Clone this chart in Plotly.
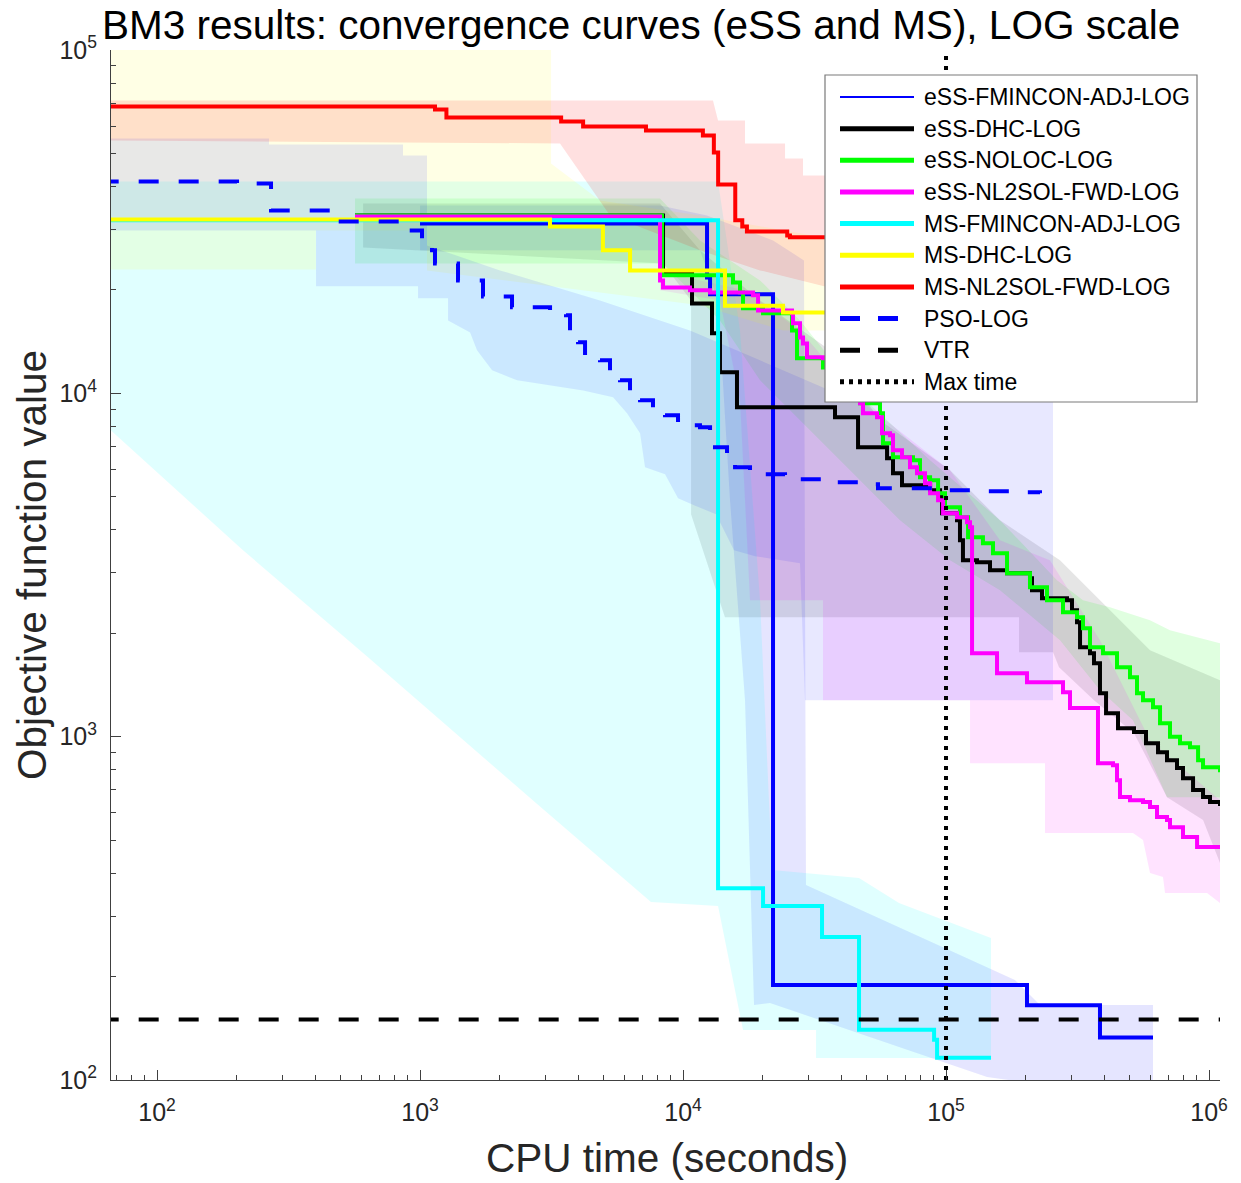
import plotly.graph_objects as go

# ---------------- median convergence curves (CPU time [s], objective value) -------------
ess_fmincon_x = [1000, 12340, 12670, 21990, 203200, 385000, 612400]
ess_fmincon_y = [31250, 21760, 19420, 189, 165, 133, 133]

ess_dhc_x = [566, 8395, 10820, 12890, 13820, 16040, 37840, 46290, 59670, 62870, 68020, 86980, 94940, 96610,
             110100, 113000, 116000, 131200, 147000, 170600, 208600, 212300, 231700, 288500, 301300, 314900,
             323300, 352700, 365300, 385000, 406000, 450800, 518600, 576000, 640000, 692300, 755600, 796300,
             869600, 949000, 1008800, 1101000]
ess_dhc_y = [32970, 22350, 18280, 14950, 11510, 9104, 8514, 6961, 6469, 5847, 5397, 5219, 5047, 4474,
             4269, 3733, 3265, 3221, 3053, 2992, 2894, 2671, 2530, 2496, 2335, 2154,
             1822, 1750, 1637, 1338, 1171, 1058, 1031, 957, 901, 854, 810, 757,
             699, 667, 645, 628]

ess_noloc_x = [566, 8323, 15490, 16470, 16910, 20150, 25970, 27130, 34060, 47100, 56100, 57600, 62870, 74890,
               79630, 86980, 93290, 99130, 113000, 121300, 138200, 150900, 170600, 208600, 242100, 278500,
               314900, 331800, 352700, 395400, 446900, 500700, 532400, 561100, 612400, 651300, 710700, 775700,
               846700, 908700, 949000, 1101000]
ess_noloc_y = [32970, 22060, 21040, 19680, 17680, 17100, 15250, 12650, 11900, 9352, 8745, 7150, 6512, 6383,
               5692, 5579, 5115, 4658, 4355, 3808, 3659, 3422, 2992, 2725, 2496, 2304,
               2228, 2070, 1822, 1750, 1593, 1490, 1338, 1277, 1219, 1095, 1000, 957,
               932, 854, 815, 788]

ess_nl2sol_x = [566, 8178, 8395, 10630, 12670, 18460, 19290, 25970, 26190, 27850, 28590, 29610, 34060, 47100,
                48360, 54650, 57100, 61250, 62870, 68020, 72950, 77570, 83200, 86980, 93290, 97460, 110100,
                120200, 123400, 125600, 156300, 203200, 278500, 296100, 378300, 431500, 446900, 458700, 500700,
                561100, 596600, 634300, 692300, 710700, 796300, 900800, 1101000]
ess_nl2sol_y = [32750, 21330, 20350, 19950, 19680, 19290, 17440, 17100, 15990, 14550, 13980, 12730, 12650, 9352,
                8745, 8514, 7648, 7546, 6826, 6512, 6089, 5847, 5470, 5115, 4881, 4474, 4355,
                4212, 4073, 1750, 1531, 1441, 1347, 1211, 837, 826, 747, 667, 653,
                645, 624, 583, 572, 545, 510, 477, 477]

ms_fmincon_x = [60, 13590, 20150, 33770, 46690, 90080, 92470, 148300]
ms_fmincon_y = [31900, 362, 321, 261, 140, 131, 116, 116]

ms_dhc_x = [60, 3120, 4960, 6290, 14440, 24000, 39500]
ms_dhc_y = [32100, 30600, 26100, 22800, 18000, 17200, 17200]

ms_nl2sol_x = [60, 1140, 1260, 3440, 4170, 7230, 11900, 13100, 13600, 15800, 16800, 17500, 24900, 25500, 39500]
ms_nl2sol_y = [68500, 67100, 63600, 61900, 59900, 58300, 56400, 50300, 40600, 31900, 30600, 29600, 28800, 28500, 28500]

pso_x = [60, 201.5, 271.3, 471, 861.8, 1017.6, 1110.8, 1140, 1394.7, 1735.7, 2237.8, 3122, 3590, 3718, 3989,
         4241, 4835, 5277, 5760, 6287, 6864, 7688, 8543, 9572, 11600, 12670, 13230, 14700, 15770, 17980,
         24430, 34670, 49200, 55130, 94940, 134700, 191200, 227700]
pso_y = [41410, 40860, 34100, 31670, 29820, 27880, 26090, 23900, 21330, 19160, 17800, 17330, 16870, 14750, 14080,
         12900, 12480, 11510, 10910, 10070, 9550, 8923, 8630, 8070, 7962, 7546, 6961, 6383, 6089, 5808,
         5617, 5505, 5433, 5289, 5219, 5184, 5149, 5115]

vtr_value = 150
max_time = 1e5

# ---------------- dispersion bands (closed outlines) -------------------------------------
ms_dhc_band_x = [60, 3149, 3149, 4835, 11600, 39540, 39540, 24000, 11600, 1063, 1063, 402, 402, 60]
ms_dhc_band_y = [1e5, 1e5, 46730, 36470, 32970, 27880, 15250, 15250, 18040, 22810, 29820, 29820, 22960, 22960]

ms_nl2sol_band_x = [60, 13000, 13590, 17210, 17210, 24430, 24430, 28590, 28590, 39540,
                    39540, 19630, 11600, 5277, 3406, 60]
ms_nl2sol_band_y = [71300, 71300, 62360, 62360, 53430, 53430, 48330, 48330, 43110, 43110,
                    19950, 22810, 26090, 32970, 53430, 54520]

pso_band_x = [60, 266.6, 266.6, 861.8, 861.8, 1063, 1063, 2015, 4835, 10630, 19630, 36220, 71060, 255200,
              255200, 29090, 27850, 18790, 15630, 13350, 11010, 9572, 8543, 7170, 6864, 6124, 5418, 4169,
              2339, 1879, 1647, 1550, 1278, 1278, 982.7, 982.7, 402.3, 402.3, 60]
pso_band_y = [55260, 55260, 53070, 53070, 49320, 49320, 26970, 22810, 18650, 15250, 12480, 10200, 9550, 9550,
              1277, 1277, 3200, 3354, 3491, 4444, 4721, 4946, 5808, 6089, 7648, 8745, 9736, 10200,
              10910, 11670, 13340, 15050, 16310, 18910, 18910, 20490, 20490, 29820, 29820]

ms_fmincon_band_x = [60, 13590, 16470, 19630, 21800, 46690, 66260, 148300,
                     148300, 32040, 32040, 16910, 13590, 7554, 2787, 634.3, 212.3, 60]
ms_fmincon_band_y = [41410, 41410, 15250, 2496, 408.7, 387.3, 327.5, 259.1,
                     115.9, 115.9, 139.8, 139.8, 321.0, 329.7, 636.2, 1704, 3491, 8402]

ess_fmincon_band_x = [1000, 8178, 12340, 21990, 28840, 29350, 182900, 227700, 612400,
                      612400, 143200, 21420, 18620, 17210, 15090, 13590, 11600, 8178, 1000]
ess_fmincon_band_y = [35260, 35260, 32970, 27880, 24390, 369.6, 195.5, 165.3, 165.3,
                      87.5, 102.0, 167.6, 165.3, 1277, 4881, 18650, 26090, 26090, 26090]

ess_dhc_band_x = [607.3, 8178, 11600, 19630, 36220, 56100, 103600, 160400, 271300, 385000, 596600, 1101000,
                  1101000, 949000, 692300, 518600, 365300, 269000, 255200, 189500, 189500, 14440, 11600,
                  10730, 10730, 8395, 607.3]
ess_dhc_band_y = [35740, 35740, 26090, 18650, 13340, 8344, 5968, 4269, 3265, 2496, 1785, 1460,
                  428.3, 571.6, 666.6, 1024, 1277, 1593, 1762, 1762, 2228, 2228, 3733,
                  4444, 18650, 23900, 26610]

ess_noloc_band_x = [566, 8178, 11600, 19630, 27850, 47100, 86980, 160400, 264200, 331800, 420300, 596600,
                    710700, 1101000, 1101000, 692300, 514000, 385000, 271300, 160400, 103600, 66840, 43150,
                    27850, 19630, 13820, 8395, 566]
ess_noloc_band_y = [36960, 36960, 27880, 21330, 16310, 9867, 6383, 4269, 2855, 2496, 2382, 2183,
                    2042, 1872, 666.6, 666.6, 1117, 1366, 1910, 2671, 3265, 4269, 5968,
                    8344, 10910, 16310, 23900, 23900]

ess_nl2sol_band_x = [8178, 11600, 17210, 27850, 47100, 103600, 160400, 248500, 385000, 596600, 1101000,
                     1101000, 982700, 680300, 668400, 596600, 561100, 514000, 237900, 237900, 123400, 123400,
                     34060, 34060, 17980, 16470, 13820, 8178]
ess_nl2sol_band_y = [22810, 21330, 19950, 15250, 9550, 5968, 3733, 3265, 1910, 976.8, 653,
                     327.5, 350.3, 350.3, 389.9, 400.6, 499.7, 523.7, 523.7, 837.2, 837.2, 1277,
                     1277, 2496, 2496, 9550, 18650, 19950]

legend_labels = ["eSS-FMINCON-ADJ-LOG", "eSS-DHC-LOG", "eSS-NOLOC-LOG", "eSS-NL2SOL-FWD-LOG",
                 "MS-FMINCON-ADJ-LOG", "MS-DHC-LOG", "MS-NL2SOL-FWD-LOG", "PSO-LOG", "VTR", "Max time"]

x_major = [100, 1000, 10000, 100000, 1000000]
x_major_text = ["10<sup>2</sup>", "10<sup>3</sup>", "10<sup>4</sup>", "10<sup>5</sup>", "10<sup>6</sup>"]
y_major = [100, 1000, 10000, 100000]
y_major_text = ["10<sup>2</sup>", "10<sup>3</sup>", "10<sup>4</sup>", "10<sup>5</sup>"]

# ---------------- figure -------------------------------------------------------------------
fig = go.Figure()

bands = [
    (ess_fmincon_band_x, ess_fmincon_band_y, "rgba(0,0,255,0.10)"),
    (ess_dhc_band_x, ess_dhc_band_y, "rgba(0,0,0,0.10)"),
    (ess_noloc_band_x, ess_noloc_band_y, "rgba(0,255,0,0.12)"),
    (ess_nl2sol_band_x, ess_nl2sol_band_y, "rgba(255,0,255,0.11)"),
    (ms_fmincon_band_x, ms_fmincon_band_y, "rgba(0,255,255,0.12)"),
    (ms_dhc_band_x, ms_dhc_band_y, "rgba(255,255,0,0.10)"),
    (ms_nl2sol_band_x, ms_nl2sol_band_y, "rgba(255,0,0,0.12)"),
    (pso_band_x, pso_band_y, "rgba(0,0,255,0.09)"),
]
for bx, by, col in bands:
    fig.add_trace(go.Scatter(x=bx, y=by, mode="lines", fill="toself", fillcolor=col,
                             line=dict(width=0), hoverinfo="skip", showlegend=False))

LW = 4
curves = [
    (ess_fmincon_x, ess_fmincon_y, "#0000ff", "solid"),
    (ess_dhc_x, ess_dhc_y, "#000000", "solid"),
    (ess_noloc_x, ess_noloc_y, "#00ff00", "solid"),
    (ess_nl2sol_x, ess_nl2sol_y, "#ff00ff", "solid"),
    (ms_fmincon_x, ms_fmincon_y, "#00ffff", "solid"),
    (ms_dhc_x, ms_dhc_y, "#ffff00", "solid"),
    (ms_nl2sol_x, ms_nl2sol_y, "#ff0000", "solid"),
    (pso_x, pso_y, "#0000ff", "20px,20px"),
]
for cx, cy, col, dash in curves:
    fig.add_trace(go.Scatter(x=cx, y=cy, mode="lines", line=dict(color=col, width=LW, dash=dash, shape="hv"),
                             showlegend=False))

fig.add_trace(go.Scatter(x=[60, 1.3e6], y=[vtr_value, vtr_value], mode="lines",
                         line=dict(color="black", width=4, dash="20px,20px"), showlegend=False))
fig.add_trace(go.Scatter(x=[max_time, max_time], y=[100, 1e5], mode="lines",
                         line=dict(color="black", width=4, dash="4px,6px"), showlegend=False))

# ---------------- manual legend (MATLAB style) ---------------------------------------------
L, R, T, B = 111, 1220, 50, 1080
def px(xp):
    return (xp - L) / (R - L)
def py(yp):
    return (B - yp) / (B - T)

shapes = [dict(type="rect", xref="paper", yref="paper", x0=px(825), x1=px(1197), y0=py(402), y1=py(75),
               fillcolor="white", line=dict(color="#7a7a7a", width=1.2), layer="above")]
leg_styles = [("#0000ff", 2, "solid"), ("#000000", 5, "solid"), ("#00ff00", 5, "solid"),
              ("#ff00ff", 5, "solid"), ("#00ffff", 5, "solid"), ("#ffff00", 5, "solid"),
              ("#ff0000", 5, "solid"), ("#0000ff", 5, "20px,18px"), ("#000000", 5, "20px,18px"),
              ("#000000", 5, "4px,5px")]
annotations = []
for i, (lab, (col, w, dash)) in enumerate(zip(legend_labels, leg_styles)):
    yc = 97 + 31.65 * i
    shapes.append(dict(type="line", xref="paper", yref="paper", x0=px(840), x1=px(914), y0=py(yc), y1=py(yc),
                       line=dict(color=col, width=w, dash=dash), layer="above"))
    annotations.append(dict(xref="paper", yref="paper", x=px(922), y=py(yc), text=lab, showarrow=False,
                            xanchor="left", yanchor="middle",
                            font=dict(family="Liberation Sans, Arial", size=23, color="black")))

annotations.append(dict(xref="paper", yref="paper", x=px(641), y=py(25),
                        text="BM3 results: convergence curves (eSS and MS), LOG scale", showarrow=False,
                        xanchor="center", yanchor="middle",
                        font=dict(family="Liberation Sans, Arial", size=40.5, color="black")))
annotations.append(dict(xref="paper", yref="paper", x=px(667), y=py(1158), text="CPU time (seconds)",
                        showarrow=False, xanchor="center", yanchor="middle",
                        font=dict(family="Liberation Sans, Arial", size=40.5, color="#262626")))
annotations.append(dict(xref="paper", yref="paper", x=px(32), y=py(565), text="Objective function value",
                        showarrow=False, xanchor="center", yanchor="middle", textangle=-90,
                        font=dict(family="Liberation Sans, Arial", size=40.5, color="#262626")))

x_minor = [m * 10 ** k for k in range(1, 6) for m in range(2, 10) if 66 < m * 10 ** k < 1.1e6]
y_minor = [m * 10 ** k for k in range(2, 5) for m in range(2, 10)]

axis_common = dict(type="log", showgrid=False, zeroline=False, showline=True, linecolor="#404040",
                   linewidth=1, ticks="inside", ticklen=10, tickwidth=1, tickcolor="#404040",
                   tickfont=dict(family="Liberation Sans, Arial", size=25, color="#262626"),
                   mirror=False)
fig.update_layout(
    width=1241, height=1183,
    margin=dict(l=L, r=1241 - R, t=T, b=1183 - B),
    paper_bgcolor="white", plot_bgcolor="white",
    showlegend=False,
    xaxis=dict(**axis_common, range=[1.825, 6.0418], tickmode="array", tickvals=x_major, ticktext=x_major_text,
               ticklabelstandoff=10,
               minor=dict(tickmode="array", tickvals=x_minor, ticks="inside", ticklen=5, tickcolor="#404040")),
    yaxis=dict(**axis_common, range=[2, 5], tickmode="array", tickvals=y_major, ticktext=y_major_text,
               ticklabelstandoff=8,
               minor=dict(tickmode="array", tickvals=y_minor, ticks="inside", ticklen=5, tickcolor="#404040")),
    shapes=shapes, annotations=annotations,
)

fig.write_html("out.html")
